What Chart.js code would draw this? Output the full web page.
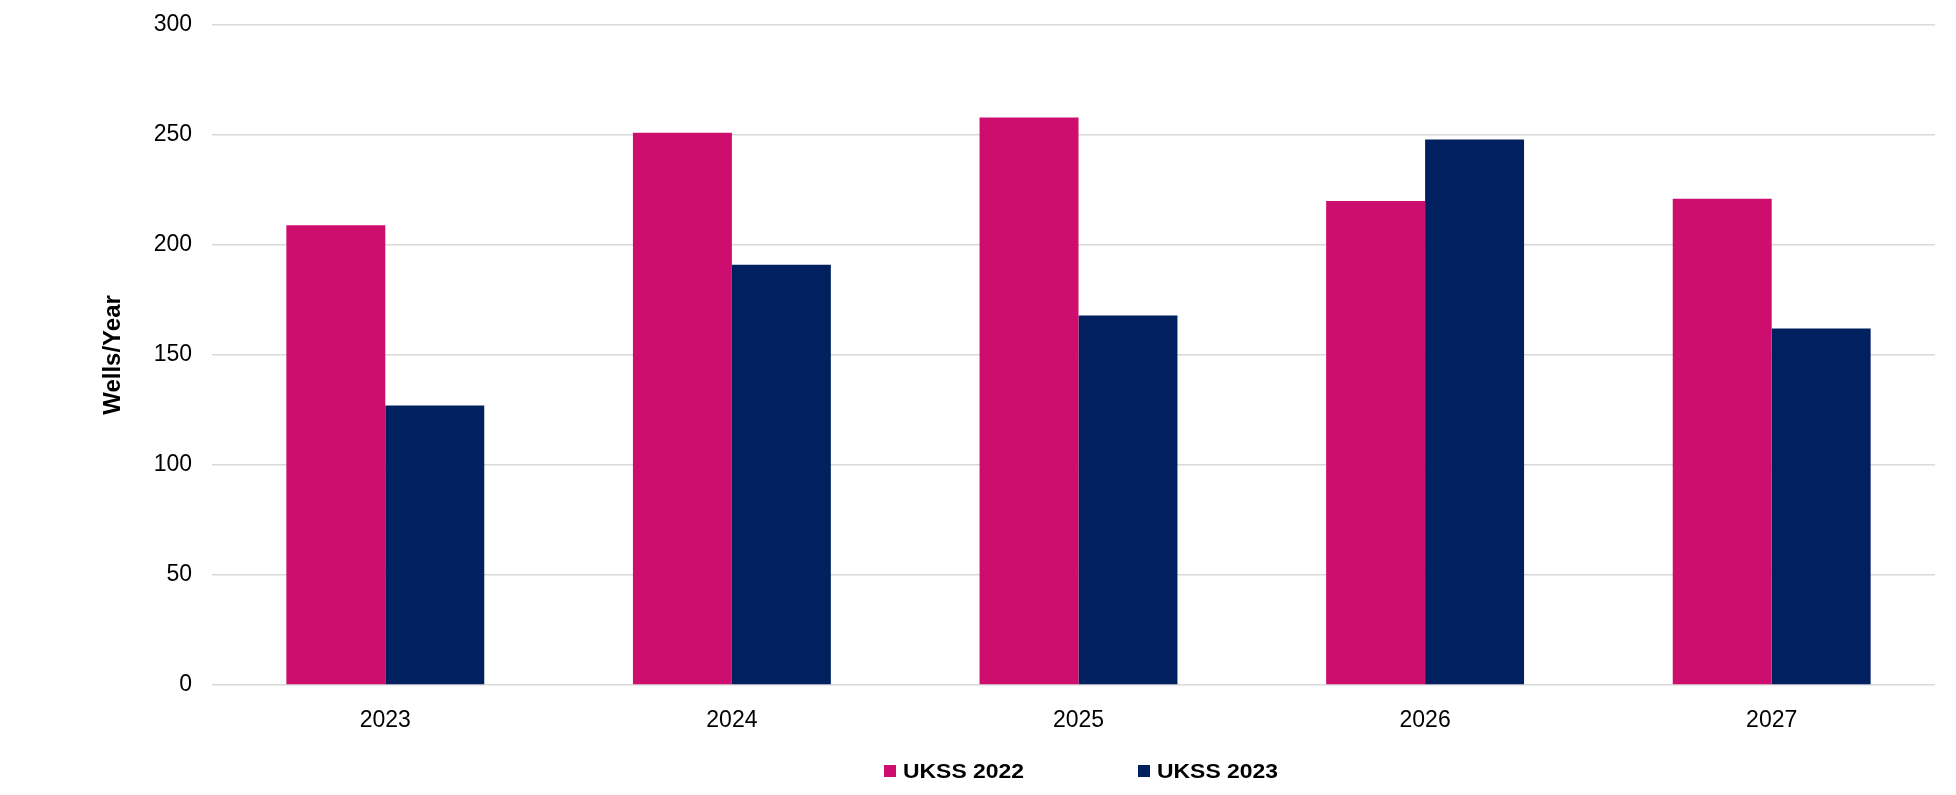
<!DOCTYPE html>
<html>
<head>
<meta charset="utf-8">
<script src="https://cdn.jsdelivr.net/npm/chart.js@4"></script>
<style>
  html, body { margin: 0; padding: 0; background: #fff; }
  #wrap { width: 1956px; height: 795px; position: relative; }
</style>
</head>
<body>
<div id="wrap"><canvas id="wellsChart"></canvas></div>
<script>
// Data
const years = ['2023', '2024', '2025', '2026', '2027'];
const ukss2022 = [209, 251, 258, 220, 221];
const ukss2023 = [127, 191, 168, 248, 162];
const yTicks = [0, 50, 100, 150, 200, 250, 300];

const PINK = '#CE0E6F';
const NAVY = '#00205F';

// Gridlines in the original stop a little short of the last category slot
const gridTrim = {
    id: 'gridTrim',
    beforeDatasetsDraw(chart) {
        const { ctx, chartArea } = chart;
        ctx.save();
        ctx.fillStyle = '#fff';
        ctx.fillRect(1935, chartArea.top - 3, chartArea.right - 1935 + 1, chartArea.bottom - chartArea.top + 6);
        ctx.restore();
    }
};

// Legend drawn at the bottom, items spaced wide apart like the original
const wideLegend = {
    id: 'wideLegend',
    afterDraw(chart) {
        const ctx = chart.ctx;
        const starts = [884, 1138];
        const y = 771;
        ctx.save();
        ctx.font = 'bold 21px "Liberation Sans", Arial, sans-serif';
        ctx.textBaseline = 'middle';
        chart.data.datasets.forEach((ds, i) => {
            const x = starts[i];
            ctx.fillStyle = ds.backgroundColor;
            ctx.fillRect(x, y - 6, 12, 12);
            ctx.fillStyle = '#000';
            const w = ctx.measureText(ds.label).width;
            ctx.save();
            ctx.translate(x + 19, y + 1);
            ctx.scale(121 / w, 1);
            ctx.fillText(ds.label, 0, 0);
            ctx.restore();
        });
        ctx.restore();
    }
};

const ctx = document.getElementById('wellsChart').getContext('2d');
new Chart(ctx, {
    type: 'bar',
    data: {
        labels: years,
        datasets: [{
            label: 'UKSS 2022',
            data: ukss2022,
            backgroundColor: PINK,
            borderWidth: 0
        },
        {
            label: 'UKSS 2023',
            data: ukss2023,
            backgroundColor: NAVY,
            borderWidth: 0
        }]
    },
    options: {
        responsive: true,
        maintainAspectRatio: false,
        animation: false,
        layout: {
            padding: { left: 99, right: 11, top: 25, bottom: 60 }
        },
        datasets: {
            bar: {
                categoryPercentage: 0.571,
                barPercentage: 1.0
            }
        },
        plugins: {
            legend: { display: false },
            tooltip: { enabled: false }
        },
        scales: {
            x: {
                grid: { display: false },
                border: { display: false },
                ticks: {
                    color: '#000',
                    padding: 14,
                    font: { family: '"Liberation Sans", Arial, sans-serif', size: 23 }
                },
                afterFit(scale) {
                    scale.height = 50;
                    scale.paddingLeft = 0;
                    scale.paddingRight = 0;
                }
            },
            y: {
                min: 0,
                max: 300,
                afterBuildTicks(scale) {
                    scale.ticks = yTicks.map(v => ({ value: v }));
                },
                grid: {
                    color: '#d9d9d9',
                    lineWidth: 1.5,
                    drawTicks: false
                },
                border: { display: false },
                ticks: {
                    color: '#000',
                    padding: 20,
                    font: { family: '"Liberation Sans", Arial, sans-serif', size: 23 }
                },
                title: {
                    display: true,
                    text: 'Wells/Year',
                    color: '#000',
                    padding: 0,
                    font: { family: '"Liberation Sans", Arial, sans-serif', size: 24, weight: 'bold' }
                },
                afterFit(scale) {
                    scale.width = 113;
                    scale.paddingTop = 0;
                    scale.paddingBottom = 0;
                }
            }
        }
    },
    plugins: [gridTrim, wideLegend]
});
</script>
</body>
</html>
